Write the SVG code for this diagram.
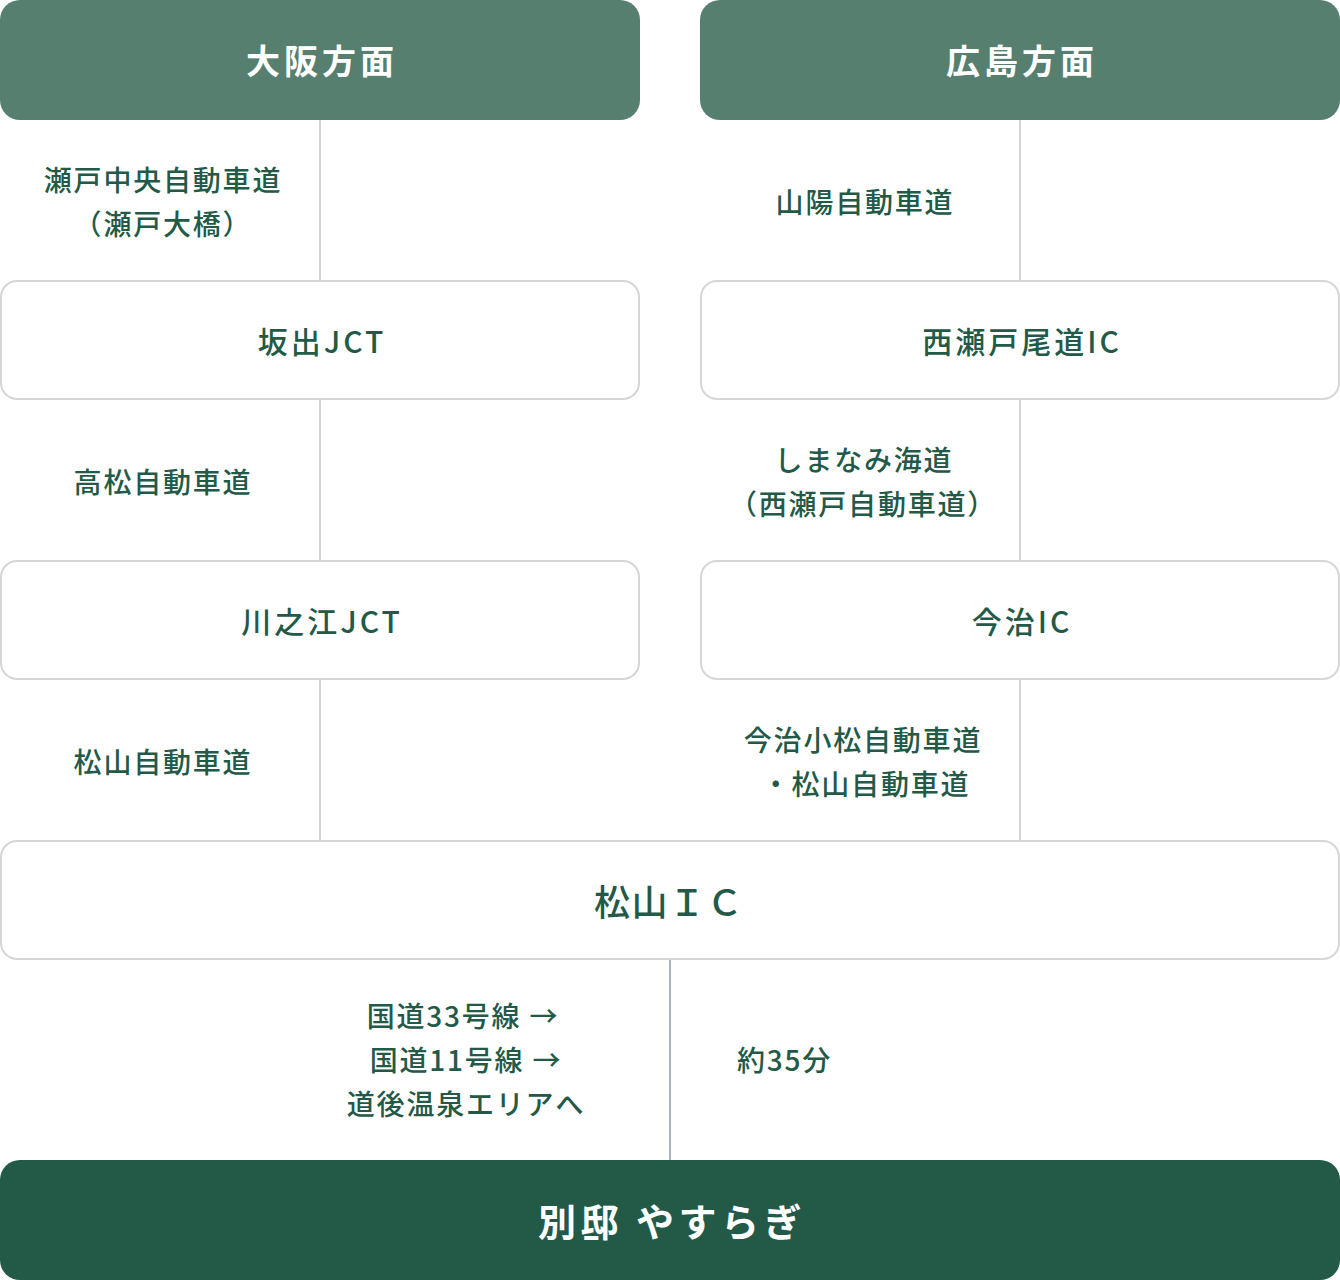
<svg xmlns="http://www.w3.org/2000/svg" width="1340" height="1280" viewBox="0 0 1340 1280">
<style>
.hdr{fill:#577f6f}
.box{fill:#ffffff;stroke:#d6d6d6;stroke-width:2}
.dest{fill:#235a47}
.ln{stroke:#d3d3d3;stroke-width:2;fill:none}
.ln2{stroke:#a9b4be;stroke-width:2;fill:none}
text{font-family:"Noto Sans CJK JP","Noto Sans",sans-serif;dominant-baseline:central}
.ht{fill:#ffffff;font-size:34px;font-weight:700;letter-spacing:4px;text-anchor:middle}
.nt{fill:#235a47;font-size:30px;font-weight:500;letter-spacing:3px;text-anchor:middle}
.big{fill:#235a47;font-size:36px;font-weight:500;letter-spacing:1.5px;text-anchor:middle}
.lt{fill:#235a47;font-size:28px;font-weight:500;letter-spacing:1.8px;text-anchor:middle}
.lts{fill:#235a47;font-size:28px;font-weight:500;letter-spacing:1.8px;text-anchor:start}
.dt{fill:#ffffff;font-size:38px;font-weight:700;letter-spacing:4.5px;text-anchor:middle}
</style>
<g id="connectors">
<line class="ln" x1="320" y1="120" x2="320" y2="280"/>
<line class="ln" x1="320" y1="400" x2="320" y2="560"/>
<line class="ln" x1="320" y1="680" x2="320" y2="840"/>
<line class="ln" x1="1020" y1="120" x2="1020" y2="280"/>
<line class="ln" x1="1020" y1="400" x2="1020" y2="560"/>
<line class="ln" x1="1020" y1="680" x2="1020" y2="840"/>
<line class="ln2" x1="670" y1="960" x2="670" y2="1160"/>
</g>
<g id="labels">
<text class="lt" x="163" y="179">瀬戸中央自動車道</text>
<text class="lt" x="163" y="223">（瀬戸大橋）</text>
<text class="lt" x="163" y="481">高松自動車道</text>
<text class="lt" x="163" y="761">松山自動車道</text>
<text class="lt" x="865" y="201">山陽自動車道</text>
<text class="lt" x="864" y="459">しまなみ海道</text>
<text class="lt" x="863" y="503">（西瀬戸自動車道）</text>
<text class="lt" x="863" y="739">今治小松自動車道</text>
<text class="lt" x="866" y="783">・松山自動車道</text>
<text class="lt" x="463" y="1015">国道33号線 →</text>
<text class="lt" x="466" y="1059">国道11号線 →</text>
<text class="lt" x="466" y="1103">道後温泉エリアへ</text>
<text class="lts" x="737" y="1059">約35分</text>
</g>
<g id="osaka">
<rect class="hdr" x="0" y="0" width="640" height="120" rx="20"/>
<text class="ht" x="322" y="59">大阪方面</text>
</g>
<g id="hiroshima">
<rect class="hdr" x="700" y="0" width="640" height="120" rx="20"/>
<text class="ht" x="1022" y="59">広島方面</text>
</g>
<g id="sakaide">
<rect class="box" x="1" y="281" width="638" height="118" rx="16"/>
<text class="nt" x="322" y="340">坂出JCT</text>
</g>
<g id="nishiseto">
<rect class="box" x="701" y="281" width="638" height="118" rx="16"/>
<text class="nt" x="1022" y="340">西瀬戸尾道IC</text>
</g>
<g id="kawanoe">
<rect class="box" x="1" y="561" width="638" height="118" rx="16"/>
<text class="nt" x="322" y="620">川之江JCT</text>
</g>
<g id="imabari">
<rect class="box" x="701" y="561" width="638" height="118" rx="16"/>
<text class="nt" x="1022" y="620">今治IC</text>
</g>
<g id="matsuyama">
<rect class="box" x="1" y="841" width="1338" height="118" rx="16"/>
<text class="big" x="669" y="900">松山ＩＣ</text>
</g>
<g id="yasuragi">
<rect class="dest" x="0" y="1160" width="1340" height="120" rx="20"/>
<text class="dt" x="672" y="1219">別邸 やすらぎ</text>
</g>
</svg>
